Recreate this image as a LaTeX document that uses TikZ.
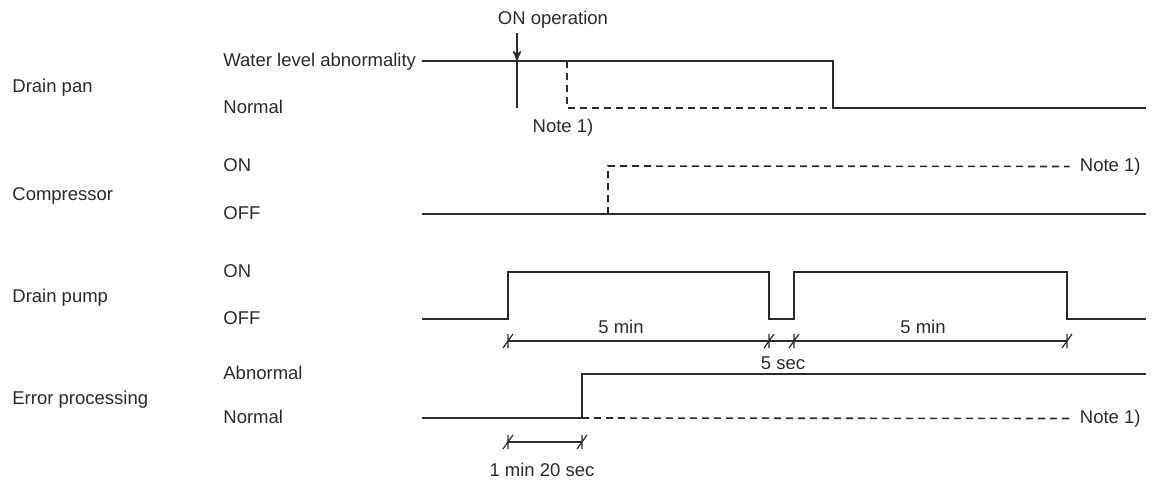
\documentclass[tikz,border=0pt]{standalone}
\usepackage{fontspec}
\setmainfont{Liberation Sans}
\usepackage{xcolor}
\usetikzlibrary{arrows,positioning}
\definecolor{ink}{HTML}{2B2B2B}

\begin{document}
\begin{tikzpicture}[x=0.5pt,y=-0.5pt,>=stealth',
	every node/.style={font=\fontsize{9.25}{11}\selectfont,text=ink,inner sep=0pt},
	lbl/.style={anchor=mid west},
	sig/.style={draw=ink,line width=0.8pt},
	pend/.style={sig,dash pattern=on 3.5pt off 2.5pt},
	dim/.style={draw=ink,line width=0.6pt},
	dimtick/.pic={\draw[ink,line width=0.6pt] (0,-7) -- (0,7) (-5,7) -- (5,-7);}]
	\useasboundingbox (0,0) rectangle (1156,482);

	% signal names
	\node[lbl] (pan) at (12,87) {Drain pan};
	\node[lbl] (comp) at (12,195) {Compressor};
	\node[lbl] (pump) at (12,297) {Drain pump};
	\node[lbl] (err) at (12,399) {Error processing};

	% levels
	\node[lbl] (panH) at (223,61) {Water level abnormality};
	\node[lbl] (panL) at (223,108) {Normal};
	\node[lbl] (compH) at (223,166) {ON};
	\node[lbl] (compL) at (223,214) {OFF};
	\node[lbl] (pumpH) at (223,272) {ON};
	\node[lbl] (pumpL) at (223,319) {OFF};
	\node[lbl] (errH) at (223,374) {Abnormal};
	\node[lbl] (errL) at (223,418) {Normal};

	% time marks
	\coordinate (tS) at (422,0);
	\coordinate (tOn) at (517,0);
	\coordinate (tP1) at (508,0);
	\coordinate (tNote) at (567,0);
	\coordinate (tErr) at (582,0);
	\coordinate (tComp) at (608,0);
	\coordinate (tP2) at (769,0);
	\coordinate (tP3) at (794,0);
	\coordinate (tDry) at (833,0);
	\coordinate (tP4) at (1067,0);
	\coordinate (tEnd) at (1146,0);
	\coordinate (dimA) at (0,341);
	\coordinate (dimB) at (0,442);

	% drain pan
	\node (onop) at (553,20) {ON operation};
	\draw[sig] (tS|-panH.mid) -- (tDry|-panH.mid) -- (tDry|-panL.mid) -- (tEnd|-panL.mid);
	\draw[sig] (tOn|-panH.mid) -- (tOn|-panL.mid);
	\draw[sig,->] ([yshift=-2pt]onop.south -| tOn) -- (tOn|-panH.mid);
	\draw[pend] (tNote|-panH.mid) -- (tNote|-panL.mid) -- (tDry|-panL.mid);
	\node (note1) at (563,128) {Note 1)};

	% compressor
	\node[anchor=mid east] (note2) at (1141,166) {Note 1)};
	\draw[sig] (tS|-compL.mid) -- (tEnd|-compL.mid);
	\draw[pend] (tComp|-compL.mid) -- (tComp|-compH.mid) -- ([xshift=-5pt]note2.west);

	% drain pump
	\draw[sig] (tS|-pumpL.mid) -- (tP1|-pumpL.mid) -- (tP1|-pumpH.mid) -- (tP2|-pumpH.mid)
		-- (tP2|-pumpL.mid) -- (tP3|-pumpL.mid) -- (tP3|-pumpH.mid) -- (tP4|-pumpH.mid)
		-- (tP4|-pumpL.mid) -- (tEnd|-pumpL.mid);
	\draw[dim] (tP1|-dimA) -- (tP4|-dimA);
	\foreach \t in {tP1,tP2,tP3,tP4}
		\pic at (\t|-dimA) {dimtick};
	\node (min1) at (621,327) {5 min};
	\node (min2) at (923,327) {5 min};
	\node (sec) at (783,363) {5 sec};

	% error processing
	\node[anchor=mid east] (note3) at (1141,418) {Note 1)};
	\draw[sig] (tS|-errL.mid) -- (tErr|-errL.mid) -- (tErr|-errH.mid) -- (tEnd|-errH.mid);
	\draw[pend] (tErr|-errL.mid) -- ([xshift=-5pt]note3.west);
	\draw[dim] (tP1|-dimB) -- (tErr|-dimB);
	\pic at (tP1|-dimB) {dimtick};
	\pic at (tErr|-dimB) {dimtick};
	\node (delay) at (542,470) {1 min 20 sec};
\end{tikzpicture}
\end{document}
